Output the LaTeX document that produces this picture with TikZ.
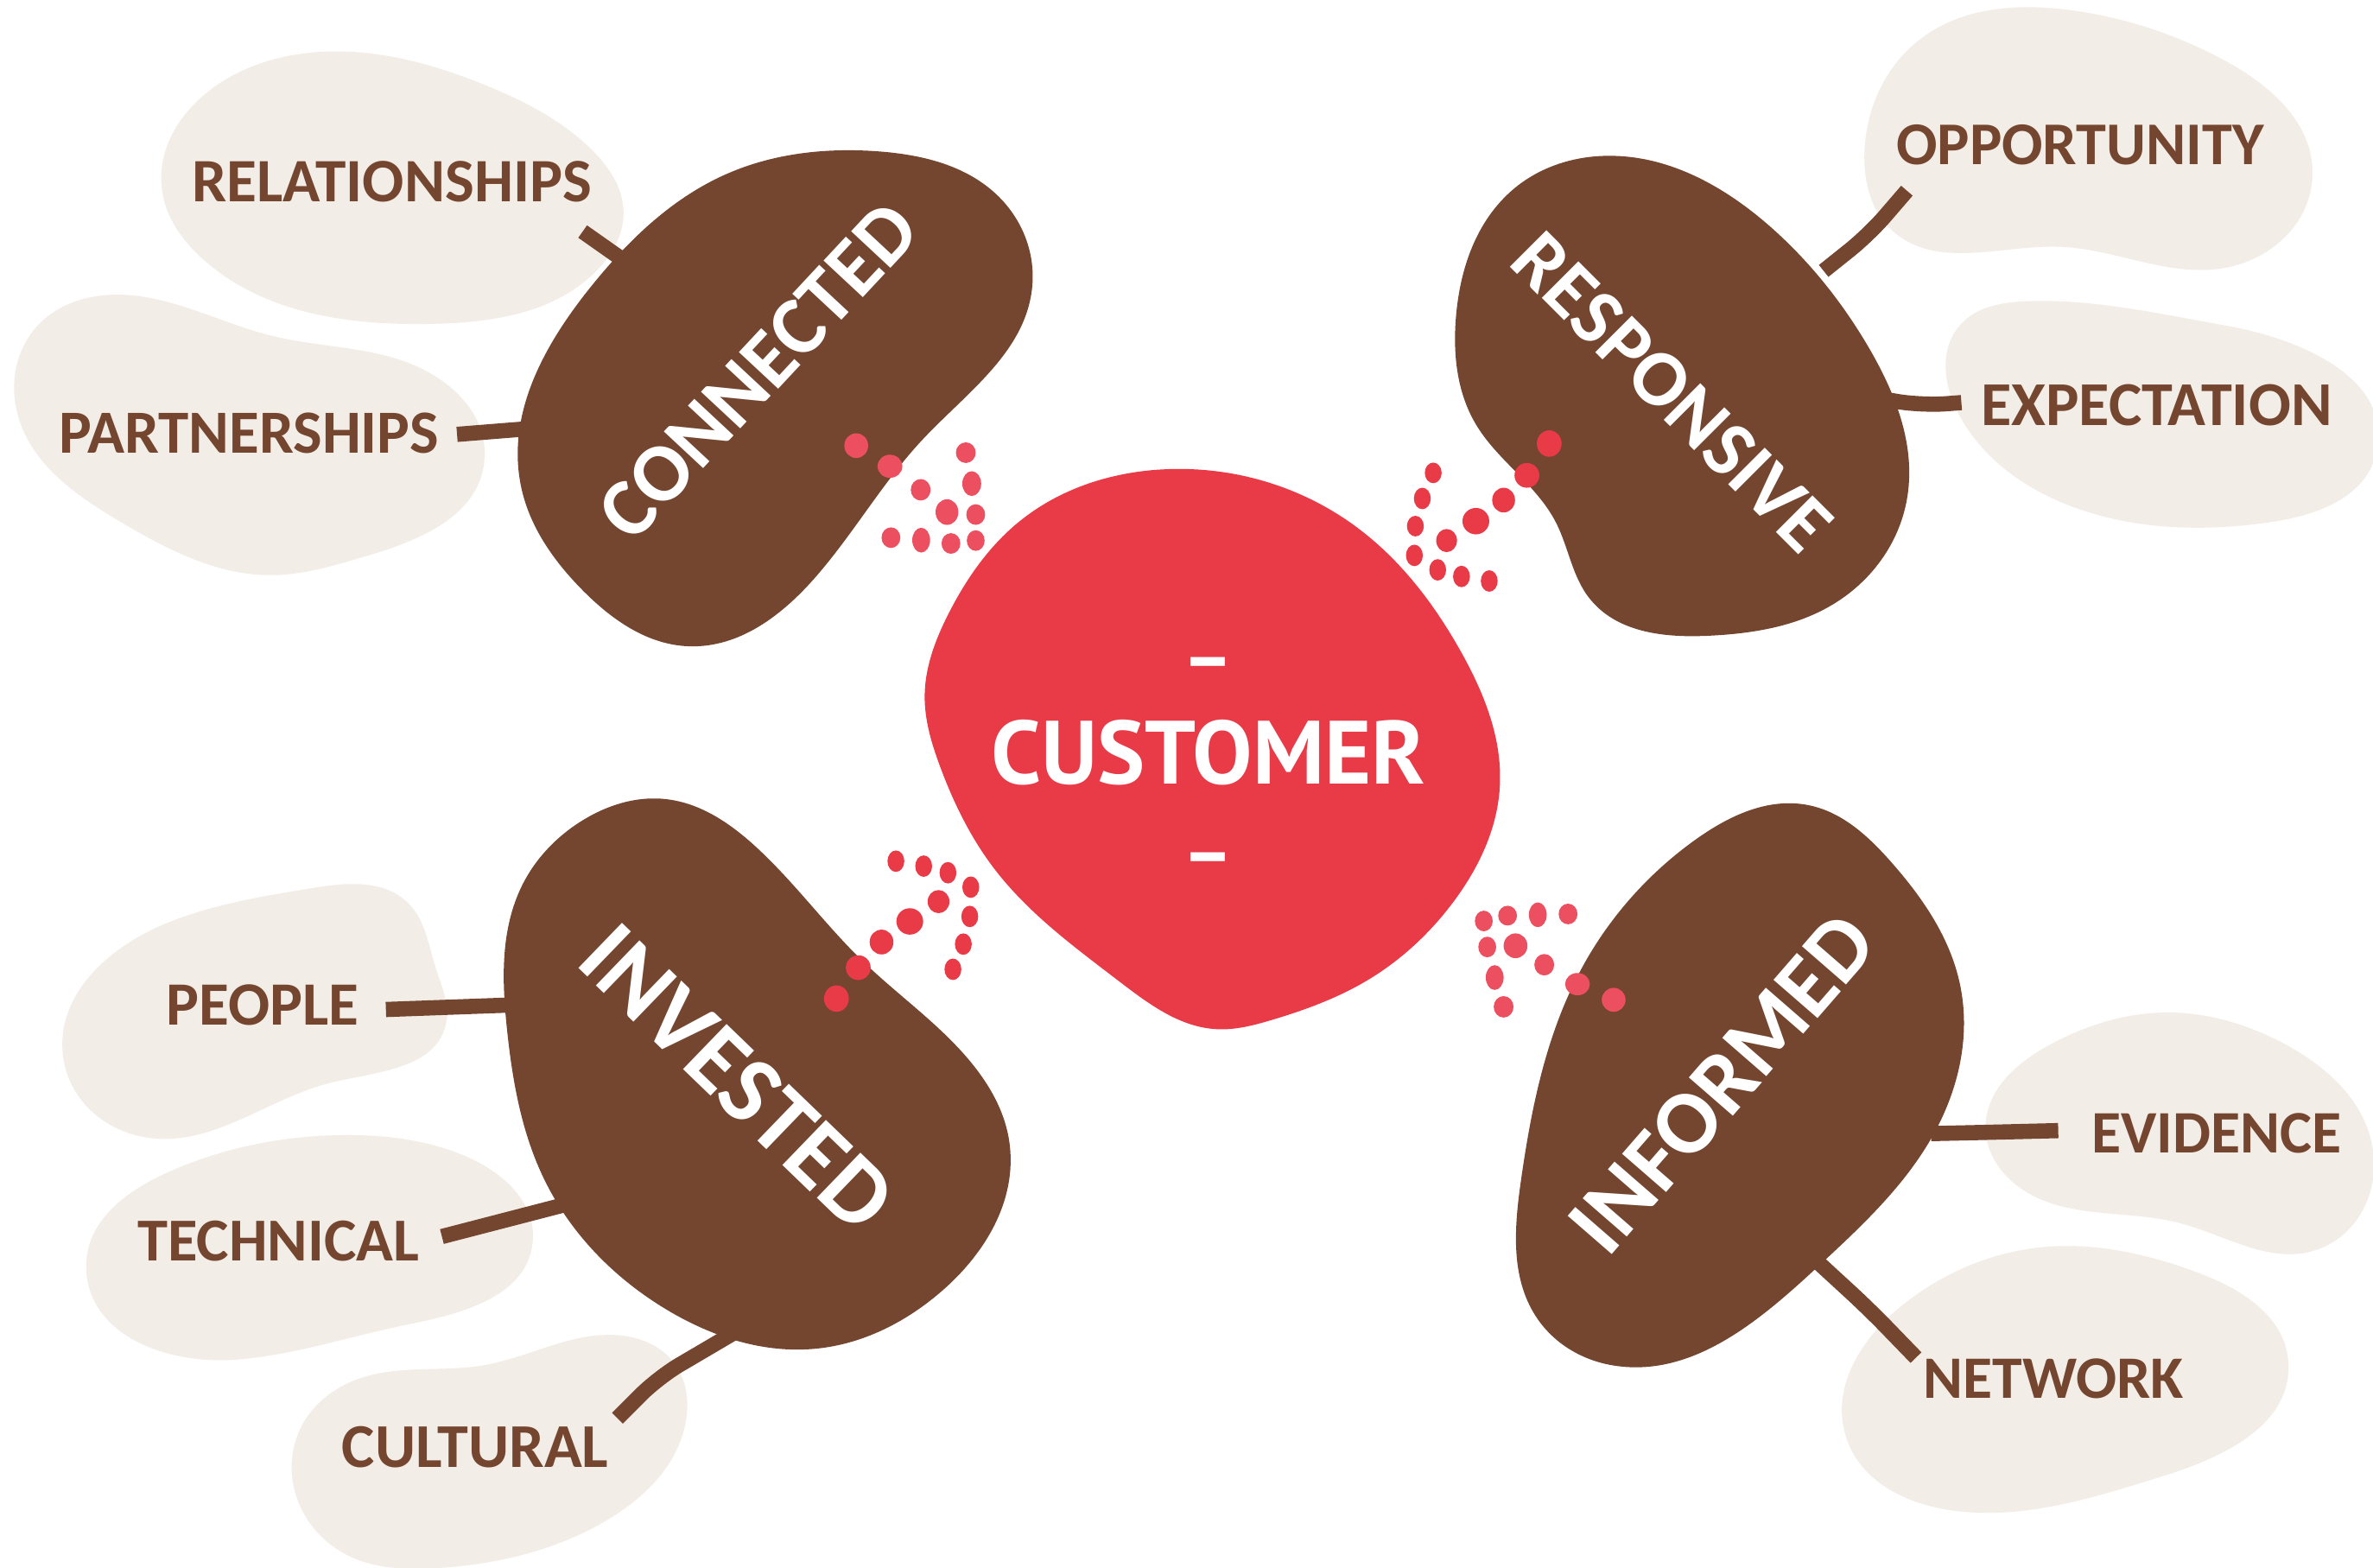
\documentclass[tikz,border=0pt]{standalone}
\usepackage{fontspec}
\usetikzlibrary{hobby}
\newfontfamily\labf{Carlito}
\newfontfamily\ptb{PT Sans}
\newfontfamily\dashf{Lato}[UprightFont={* Black}]
\definecolor{brownleaf}{HTML}{744630}
\definecolor{paleleaf}{HTML}{F2EDE7}
\definecolor{coral}{HTML}{E93A47}
\definecolor{coralsoft}{HTML}{EC5060}
% set a text at the font size that gives it the width #1 (in picture units)
\newcommand{\fw}[2]{\setbox0=\hbox{\fontsize{20}{20}\selectfont #2}%
  \pgfmathsetmacro\fsz{20*#1*0.4985/\the\wd0}%
  \fontsize{\fsz}{\fsz}\selectfont #2}
\tikzset{
  palelabel/.style={inner sep=0pt,text=brownleaf,font=\labf\bfseries},
  leaflabel/.style={inner sep=0pt,text=white,font=\labf\bfseries},
  hublabel/.style={inner sep=0pt,text=white,font=\ptb\bfseries},
  hubdash/.style={inner sep=0pt,text=white,font=\dashf,anchor=base},
  stem/.style={draw=brownleaf,line width=5pt,rounded corners=8pt},
}
\newcommand{\blob}[2]{\fill[#1,use Hobby shortcut,closed=true] #2;}
\begin{document}
\begin{tikzpicture}[x=0.01752cm,y=-0.01752cm]
\useasboundingbox (0,0) rectangle (1568,1036);
\fill[white] (0,0) rectangle (1568,1036);
\clip (0,0) rectangle (1568,1036);
% pale blobs
\blob{paleleaf}{(225,34)..(320,56)..(390,98)..(412,140)..(395,178)..(285,214)..(135,172)..(107,125)..(150,52)}
\blob{paleleaf}{(70,195)..(180,222)..(265,238)..(320,305)..(240,368)..(180,380)..(80,345)..(12,275)..(25,215)}
\blob{paleleaf}{(1370,7)..(1470,40)..(1528,115)..(1470,177)..(1360,163)..(1250,152)..(1232,100)..(1270,25)}
\blob{paleleaf}{(1340,199)..(1470,215)..(1570,300)..(1500,345)..(1370,335)..(1295,275)..(1295,215)}
\blob{paleleaf}{(205,587)..(270,597)..(288,640)..(295,675)..(220,715)..(100,752)..(42,700)..(110,610)}
\blob{paleleaf}{(230,750)..(310,765)..(352,820)..(270,875)..(160,898)..(57,835)..(110,775)}
\blob{paleleaf}{(400,882)..(445,900)..(453,940)..(400,1005)..(290,1036)..(225,1025)..(198,945)..(240,910)..(320,902)}
\blob{paleleaf}{(1430,669)..(1510,690)..(1568,760)..(1530,826)..(1440,808)..(1335,785)..(1312,745)..(1355,690)}
\blob{paleleaf}{(1350,824)..(1450,840)..(1512,900)..(1430,975)..(1290,998)..(1220,950)..(1260,860)}
% stem end points
\coordinate (s1a) at (385,153); \coordinate (s1b) at (412,172);
\coordinate (s2a) at (302,287); \coordinate (s2b) at (352,283);
\coordinate (s3a) at (1260,126); \coordinate (s3m) at (1235,155); \coordinate (s3b) at (1205,179);
\coordinate (s4a) at (1296,266); \coordinate (s4m) at (1270,268); \coordinate (s4b) at (1246,264);
\coordinate (s5a) at (255,667); \coordinate (s5b) at (338,664);
\coordinate (s6a) at (292,817); \coordinate (s6b) at (373,796);
\coordinate (s7a) at (408,937); \coordinate (s7m) at (435,910); \coordinate (s7b) at (486,880);
\coordinate (s8a) at (1360,747); \coordinate (s8m) at (1320,748); \coordinate (s8b) at (1276,749);
\coordinate (s9a) at (1266,897); \coordinate (s9m) at (1235,865); \coordinate (s9b) at (1198,831);
\draw[stem] (s1a) -- (s1b);
\draw[stem] (s2a) -- (s2b);
\draw[stem] (s3a) -- (s3m) -- (s3b);
\draw[stem] (s4a) -- (s4m) -- (s4b);
\draw[stem] (s5a) -- (s5b);
\draw[stem] (s6a) -- (s6b);
\draw[stem] (s7a) -- (s7m) -- (s7b);
\draw[stem] (s8a) -- (s8m) -- (s8b);
\draw[stem] (s9a) -- (s9m) -- (s9b);
% brown leaves
\blob{brownleaf}{(580,100)..(660,130)..(682,190)..(610,290)..(540,380)..(455,427)..(385,390)..(344,320)..(390,190)..(480,115)}
\blob{brownleaf}{(1060,103)..(1170,150)..(1235,230)..(1260,330)..(1210,400)..(1130,420)..(1050,395)..(1028,345)..(975,280)..(962,210)..(1000,125)}
\blob{brownleaf}{(440,528)..(500,560)..(570,635)..(640,700)..(667,755)..(620,855)..(540,891)..(440,865)..(360,780)..(335,680)..(345,585)..(385,542)}
\blob{brownleaf}{(1195,532)..(1250,570)..(1295,650)..(1280,745)..(1200,838)..(1065,902)..(1015,870)..(1005,780)..(1045,640)..(1120,555)}
% red hub
\blob{coral}{(771,310)..(896,348)..(965,430)..(991,520)..(961,595)..(903,648)..(840,674)..(804,680)..(739,648)..(657,574)..(621,506)..(611,460)..(627,405)..(673,345)}
% dots
\begin{scope}[shift={(542.2,274)},x=0.00574cm,y=-0.004783cm]
\foreach \a/\b/\c/\d in {72/75/24/30,140/125/25/28,293/92/20/25,305/167/19/30,202/182/20/26,255/236/23/31,313/242/19/25,142/298/19/25,203/304/18/30,263/312/19/25,313/305/18/25,
 1338/1227/18/25,1386/1214/19/24,1447/1212/18/30,1508/1210/19/25,1345/1290/18/25,1402/1287/24/30,1460/1333/20/26,1360/1364/18/30,1378/1435/20/26,1527/1380/25/27,1600/1418/24/29}
  \fill[coralsoft] (\a,\b) ellipse[x radius=\c,y radius=\d];
\foreach \a/\b/\c/\d in {1470/70/25/32,1425/147/25/30,1378/207/23/30,1322/258/27/32,1263/305/21/28,1236/141/17/25,1214/203/17/26,1200/270/17/25,1198/341/17/26,1245/376/17/26,1293/392/17/26,1349/403/17/26,
 32/1415/25/32,76/1340/25/30,123/1278/24/30,180/1228/27/32,238/1180/22/28,152/1082/17/26,208/1094/17/26,257/1110/17/26,303/1145/17/26,301/1216/17/26,288/1283/17/26,267/1344/17/26}
  \fill[coral] (\a,\b) ellipse[x radius=\c,y radius=\d];
\end{scope}
% labels
\node[palelabel] (relationships) at (259,120) {\fw{264}{RELATIONSHIPS}};
\node[palelabel] (partnerships) at (164.5,286) {\fw{251}{PARTNERSHIPS}};
\node[palelabel] (opportunity) at (1374.5,96) {\fw{243}{OPPORTUNITY}};
\node[palelabel] (expectation) at (1425,268) {\fw{232}{EXPECTATION}};
\node[palelabel] (people) at (173.5,664) {\fw{127}{PEOPLE}};
\node[palelabel] (technical) at (184,820) {\fw{186}{TECHNICAL}};
\node[palelabel] (cultural) at (314,956) {\fw{176}{CULTURAL}};
\node[palelabel] (evidence) at (1464.5,749) {\fw{165}{EVIDENCE}};
\node[palelabel] (network) at (1357,911) {\fw{172}{NETWORK}};
\node[leaflabel,rotate=47] (connected) at (501,245) {\fw{281}{CONNECTED}};
\node[leaflabel,rotate=-45] (responsive) at (1105,259) {\fw{274}{RESPONSIVE}};
\node[leaflabel,rotate=-44] (invested) at (487,712) {\fw{260}{INVESTED}};
\node[leaflabel,rotate=49] (informed) at (1138,716) {\fw{274}{INFORMED}};
\node[hublabel] (customer) at (798.5,497) {\fw{287}{CUSTOMER}};
\node[hubdash] (dashtop) at (798.5,454) {\fw{32}{–}};
\node[hubdash] (dashbot) at (798.5,583) {\fw{32}{–}};
\end{tikzpicture}
\end{document}
